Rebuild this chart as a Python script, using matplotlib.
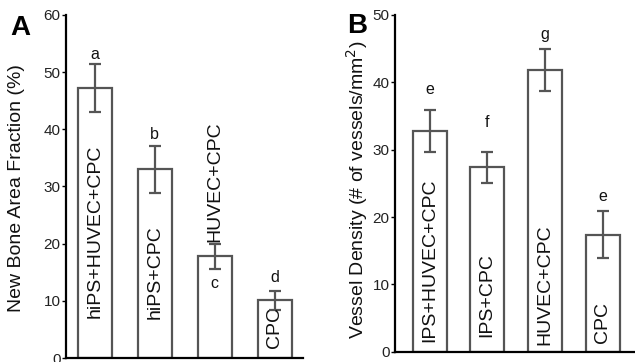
import matplotlib
matplotlib.use("Agg")
import matplotlib.pyplot as plt

plt.rcParams['font.family'] = ['Liberation Sans', 'DejaVu Sans']

# panel A
bone_groups = ["hiPS+HUVEC+CPC", "hiPS+CPC", "HUVEC+CPC", "CPC"]
bone_mean = [47.2, 33.0, 17.8, 10.1]
bone_err = [4.2, 4.1, 2.2, 1.7]
bone_letters = ["a", "b", "c", "d"]

# panel B
vessel_groups = ["IPS+HUVEC+CPC", "IPS+CPC", "HUVEC+CPC", "CPC"]
vessel_mean = [32.8, 27.4, 41.8, 17.4]
vessel_err = [3.1, 2.3, 3.1, 3.5]
vessel_letters = ["e", "f", "g", "e"]

edge = "#555555"

fig = plt.figure(figsize=(6.35, 3.62), dpi=100)
ax1 = fig.add_axes([0.104, 0.011, 0.373, 0.948])
ax2 = fig.add_axes([0.622, 0.028, 0.376, 0.931])


def draw_panel(ax, groups, mean, err, letters, ymax, width, xlim,
               label_y, letter_y, ylabel, ylabel_pos):
    x = list(range(len(groups)))
    ax.bar(x, mean, width=width, color="white", edgecolor=edge, linewidth=1.6, zorder=2)
    ax.errorbar(x, mean, yerr=err, fmt="none", ecolor=edge, elinewidth=1.6,
                capsize=4, capthick=1.6, zorder=3)
    for i, g in enumerate(groups):
        ax.text(x[i], label_y[i], g, rotation=90, ha="center", va="bottom",
                fontsize=14, color="#111111", zorder=4)
        ax.text(x[i], letter_y[i], letters[i], ha="center", va="center",
                fontsize=11.5, color="#111111")
    ax.set_xlim(*xlim)
    ax.set_ylim(0, ymax)
    ax.set_yticks(range(0, ymax + 1, 10))
    ax.set_xticks([])
    ax.spines["top"].set_visible(False)
    ax.spines["right"].set_visible(False)
    ax.spines["left"].set_linewidth(1.6)
    ax.spines["bottom"].set_linewidth(1.6)
    ax.tick_params(axis="y", length=3, width=1, pad=1, labelsize=11, labelcolor="#222222")
    ax.set_ylabel(ylabel, fontsize=14, color="#111111")
    ax.yaxis.set_label_coords(*ylabel_pos)


draw_panel(ax1, bone_groups, bone_mean, bone_err, bone_letters, 60, 0.57,
           (-0.48, 3.47), [7.0, 6.8, 20.2, 1.7], [53.0, 39.0, 13.1, 14.0],
           "New Bone Area Fraction (%)", (-0.175, 0.496))
draw_panel(ax2, vessel_groups, vessel_mean, vessel_err, vessel_letters, 50, 0.59,
           (-0.6, 3.54), [1.5, 2.2, 1.0, 1.3], [38.9, 34.1, 47.1, 23.0],
           "Vessel Density (# of vessels/mm$^2$)", (-0.105, 0.48))

fig.text(10 / 635, 0.903, "A", fontsize=20, fontweight="bold", va="baseline")
fig.text(347 / 635, 0.909, "B", fontsize=20, fontweight="bold", va="baseline")

fig.savefig("out.png", dpi=100)
